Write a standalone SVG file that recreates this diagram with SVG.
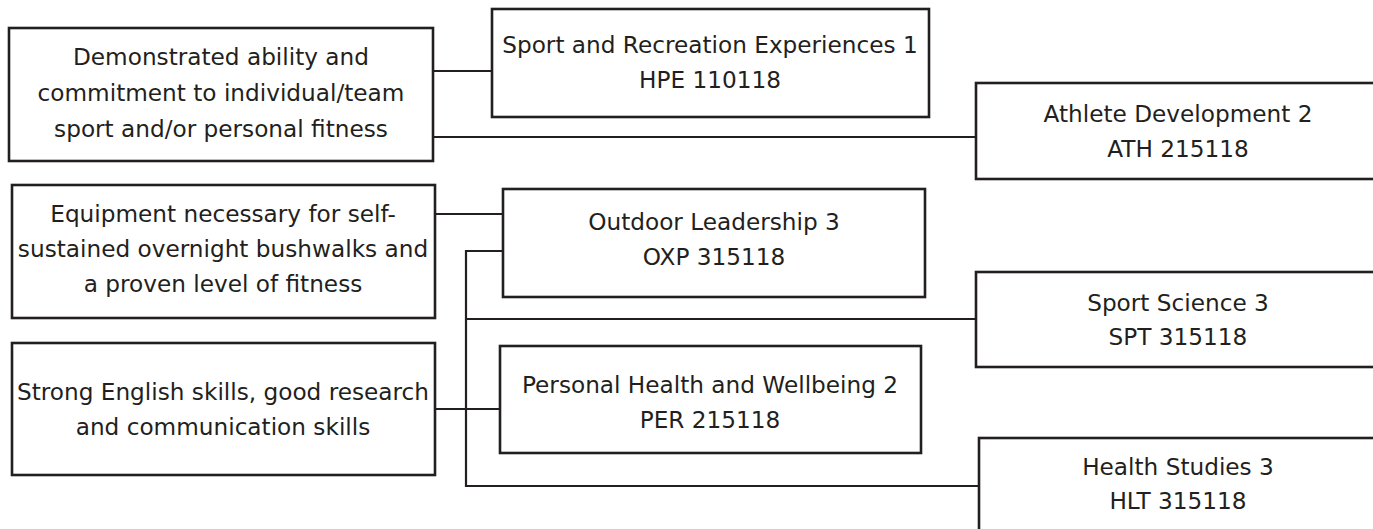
<svg xmlns="http://www.w3.org/2000/svg" width="1373" height="529" viewBox="0 0 1373 529">
<style>
.box{fill:#ffffff;stroke:#231f20;stroke-width:2.6}
.t{font-family:"DejaVu Sans","Liberation Sans",sans-serif;font-size:23.2px;fill:#231f20;text-anchor:middle}
.c{fill:none;stroke:#231f20;stroke-width:2.2}
</style>
<rect width="1373" height="529" fill="#ffffff"/>
<g id="connectors">
<path class="c" d="M433 71H492"/>
<path class="c" d="M433 137H976"/>
<path class="c" d="M435 214H503"/>
<path class="c" d="M503 251H466V486H979"/>
<path class="c" d="M466 319H976"/>
<path class="c" d="M435 409H500"/>
</g>
<g id="req-sport">
<rect class="box" x="9" y="28" width="424" height="133"/>
<text class="t" x="221" y="65">Demonstrated ability and</text>
<text class="t" x="221" y="101">commitment to individual/team</text>
<text class="t" x="221" y="137">sport and/or personal fitness</text>
</g>
<g id="req-bushwalk">
<rect class="box" x="12" y="185" width="423" height="133"/>
<text class="t" x="223" y="222">Equipment necessary for self-</text>
<text class="t" x="223" y="257">sustained overnight bushwalks and</text>
<text class="t" x="223" y="292">a proven level of fitness</text>
</g>
<g id="req-english">
<rect class="box" x="12" y="343" width="423" height="132"/>
<text class="t" x="223" y="400">Strong English skills, good research</text>
<text class="t" x="223" y="435">and communication skills</text>
</g>
<g id="hpe">
<rect class="box" x="492" y="9" width="437" height="108"/>
<text class="t" x="710" y="53">Sport and Recreation Experiences 1</text>
<text class="t" x="710" y="88">HPE 110118</text>
</g>
<g id="ath">
<rect class="box" x="976" y="83" width="420" height="96"/>
<text class="t" x="1178" y="122">Athlete Development 2</text>
<text class="t" x="1178" y="157">ATH 215118</text>
</g>
<g id="oxp">
<rect class="box" x="503" y="189" width="422" height="108"/>
<text class="t" x="714" y="230">Outdoor Leadership 3</text>
<text class="t" x="714" y="265">OXP 315118</text>
</g>
<g id="spt">
<rect class="box" x="976" y="272" width="420" height="95"/>
<text class="t" x="1178" y="311">Sport Science 3</text>
<text class="t" x="1178" y="345">SPT 315118</text>
</g>
<g id="per">
<rect class="box" x="500" y="346" width="421" height="107"/>
<text class="t" x="710" y="393">Personal Health and Wellbeing 2</text>
<text class="t" x="710" y="428">PER 215118</text>
</g>
<g id="hlt">
<rect class="box" x="979" y="438" width="420" height="110"/>
<text class="t" x="1178" y="475">Health Studies 3</text>
<text class="t" x="1178" y="509">HLT 315118</text>
</g>
</svg>
